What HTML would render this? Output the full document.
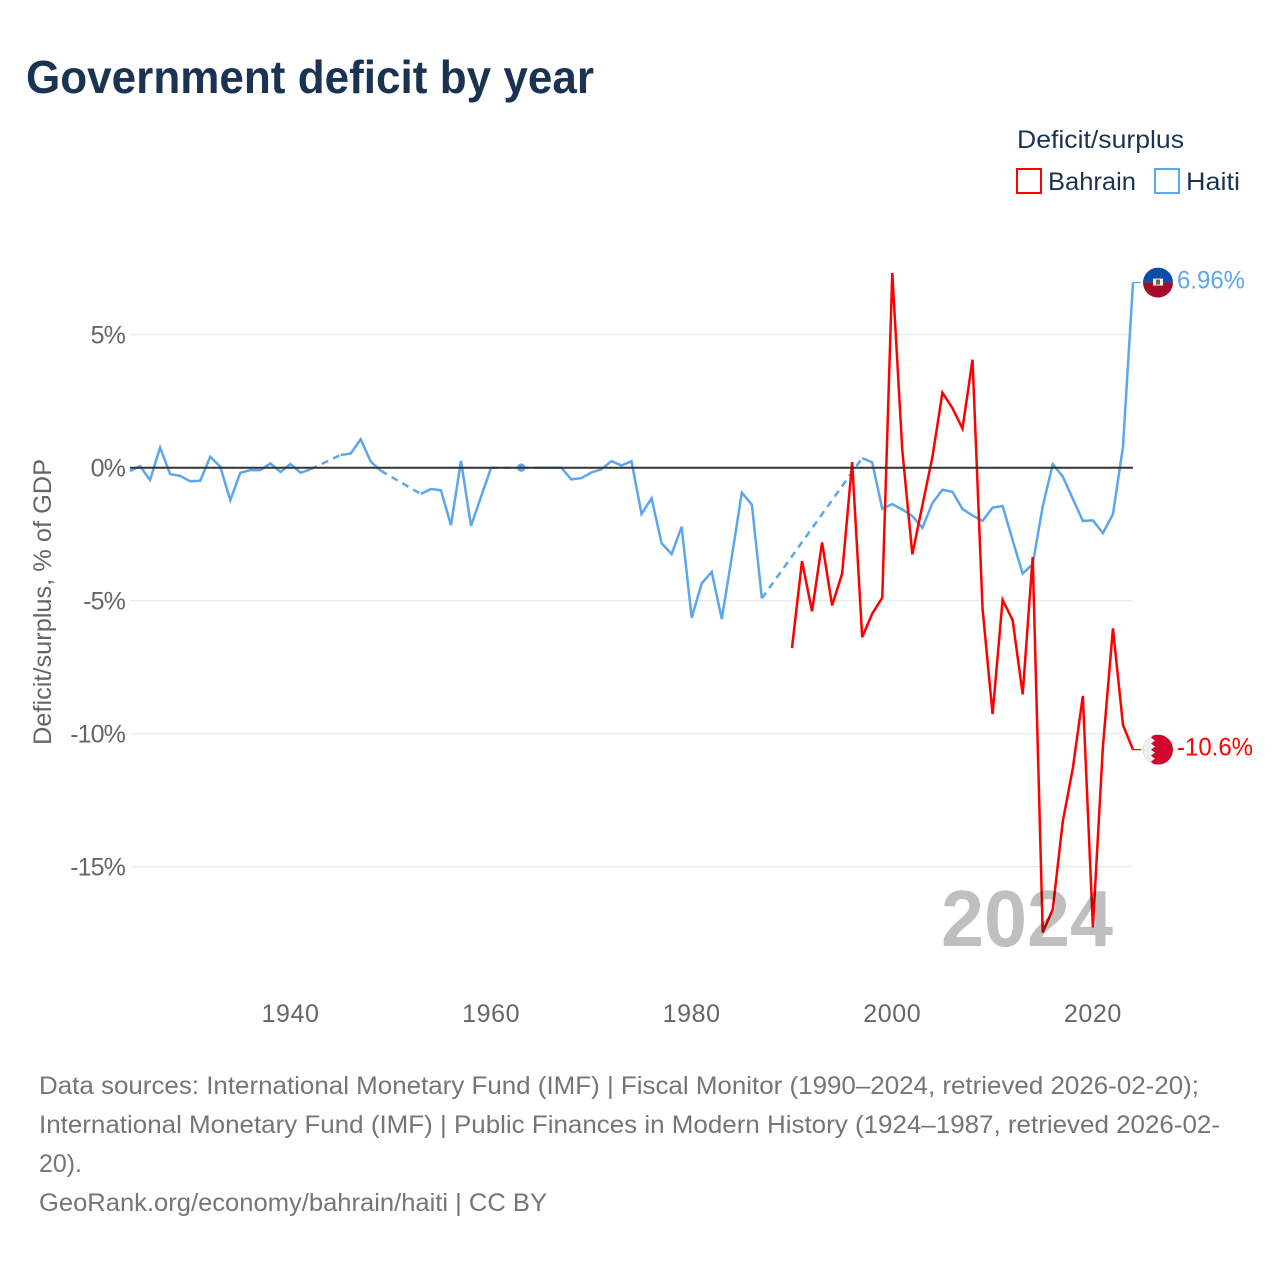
<!DOCTYPE html>
<html lang="en">
<head>
<meta charset="utf-8">
<title>Government deficit by year</title>
<style>
  html, body { margin: 0; padding: 0; background: #fff; }
  svg { display: block; font-family: "Liberation Sans", sans-serif; }
</style>
</head>
<body>
<svg id="chart" xmlns="http://www.w3.org/2000/svg" width="1280" height="1280" viewBox="0 0 1280 1280">
  <defs>
    <clipPath id="flag-clip"><circle cx="0" cy="0" r="15"></circle></clipPath>
  </defs>
  <rect x="0" y="0" width="1280" height="1280" fill="#ffffff"></rect>

  <text x="26" y="93" font-size="46" font-weight="700" fill="#1a3353" textLength="568" lengthAdjust="spacingAndGlyphs">Government deficit by year</text>

  <g>
    <text x="1017" y="148" font-size="25" fill="#1a3353" textLength="167" lengthAdjust="spacingAndGlyphs">Deficit/surplus</text>
    <rect x="1017" y="169" width="24" height="24" fill="#fff" stroke="#ff0000" stroke-width="2"></rect>
    <text x="1048" y="190" font-size="25" fill="#1a3353" textLength="88" lengthAdjust="spacingAndGlyphs">Bahrain</text>
    <rect x="1155" y="169" width="24" height="24" fill="#fff" stroke="#5ca6ee" stroke-width="2"></rect>
    <text x="1186" y="190" font-size="25" fill="#1a3353" textLength="54" lengthAdjust="spacingAndGlyphs">Haiti</text>
  </g>

  <text transform="translate(51,602) rotate(-90)" text-anchor="middle" font-size="25" fill="#666666" textLength="286" lengthAdjust="spacingAndGlyphs">Deficit/surplus, % of GDP</text>

  <g id="y-axis"></g>
  <g id="x-axis"></g>

  <g id="series"></g>
  <g id="zero-layer"></g>

  <text x="941" y="946" font-size="80" font-weight="700" fill="#000000" fill-opacity="0.25" textLength="172" lengthAdjust="spacingAndGlyphs">2024</text>

  <g id="end-labels"></g>

  <g font-size="25" fill="#757575">
    <text x="39" y="1094" textLength="1160" lengthAdjust="spacingAndGlyphs">Data sources: International Monetary Fund (IMF) | Fiscal Monitor (1990–2024, retrieved 2026-02-20);</text>
    <text x="39" y="1133" textLength="1181" lengthAdjust="spacingAndGlyphs">International Monetary Fund (IMF) | Public Finances in Modern History (1924–1987, retrieved 2026-02-</text>
    <text x="39" y="1172" textLength="43" lengthAdjust="spacingAndGlyphs">20).</text>
    <text x="39" y="1211" textLength="508" lengthAdjust="spacingAndGlyphs">GeoRank.org/economy/bahrain/haiti | CC BY</text>
  </g>
</svg>

<script>
const xTickYears = [1940, 1960, 1980, 2000, 2020];
const yTickValues = [5, 0, -5, -10, -15];
const yTickLabels = ['5%', '0%', '-5%', '-10%', '-15%'];

const haitiStartYear = 1924;
const haitiValues = [
  -0.13, 0.06, -0.46, 0.76, -0.24, -0.31, -0.51, -0.49, 0.41, 0.04,
  -1.22, -0.19, -0.09, -0.09, 0.16, -0.16, 0.14, -0.19, -0.06, null,
  null, 0.48, 0.53, 1.07, 0.23, -0.11, null, null, null, -0.99,
  -0.80, -0.85, -2.16, 0.26, -2.19, -1.09, 0, null, null, 0,
  null, 0, 0, 0, -0.44, -0.39, -0.18, -0.06, 0.25, 0.08,
  0.24, -1.74, -1.15, -2.84, -3.25, -2.22, -5.64, -4.35, -3.92, -5.69,
  -3.35, -0.94, -1.39, -4.91, null, null, null, null, null, null,
  null, null, null, 0.36, 0.20, -1.54, -1.37, -1.57, -1.82, -2.26,
  -1.33, -0.83, -0.91, -1.55, -1.80, -2.00, -1.50, -1.44, -2.73, -3.98,
  -3.63, -1.45, 0.13, -0.33, -1.17, -2.00, -1.98, -2.46, -1.75, 0.78,
  6.96
];

const bahrainStartYear = 1990;
const bahrainValues = [
  -6.78, -3.51, -5.40, -2.81, -5.18, -3.98, 0.21, -6.37, -5.49, -4.89,
  7.32, 0.65, -3.26, -1.42, 0.40, 2.82, 2.24, 1.47, 4.06, -5.30,
  -9.26, -4.97, -5.73, -8.52, -3.36, -17.47, -16.60, -13.30, -11.30, -8.58,
  -17.28, -10.49, -6.04, -9.67, -10.60
];

const haitiEndLabel = '6.96%';
const bahrainEndLabel = '-10.6%';

const SVG_NS = 'http://www.w3.org/2000/svg';
const HAITI_COLOR = '#5ca6ee';
const BAHRAIN_COLOR = '#ff0000';
const plotLeft = 130;
const plotRight = 1133;

function xScale(year) { return 130 + (year - 1924) * 10.03; }
function yScale(value) { return 467.7 - value * 26.6; }

function make(tag, attrs, parent) {
  const el = document.createElementNS(SVG_NS, tag);
  for (const k in attrs) el.setAttribute(k, attrs[k]);
  parent.appendChild(el);
  return el;
}

const yAxis = document.getElementById('y-axis');
const xAxis = document.getElementById('x-axis');
const zeroLayer = document.getElementById('zero-layer');
const seriesLayer = document.getElementById('series');
const endLabels = document.getElementById('end-labels');

yTickValues.forEach(function (v, i) {
  const isZero = v === 0;
  const line = make('line', {
    x1: plotLeft, x2: plotRight, y1: yScale(v), y2: yScale(v),
    stroke: isZero ? '#333333' : '#e6e6e6',
    'stroke-width': isZero ? 2 : 1
  }, isZero ? zeroLayer : yAxis);
  
  
  const label = make('text', {
    x: 125, y: yScale(v) + 9, 'text-anchor': 'end',
    'font-size': 25, 'letter-spacing': '-0.9', fill: '#666666'
  }, yAxis);
  
  
  label.textContent = yTickLabels[i];
});

xTickYears.forEach(function (year) {
  const label = make('text', {
    x: xScale(year), y: 1022, 'text-anchor': 'middle',
    'font-size': 25, 'letter-spacing': '0.6', fill: '#666666'
  }, xAxis);
  
  
  label.textContent = String(year);
});

function drawSeries(values, startYear, color, name) {
  const group = make('g', {}, seriesLayer);
  
  
  let run = [];
  let lastPoint = null;

  function flush() {
    if (run.length === 1) {
      const dot = make('circle', { cx: run[0][0], cy: run[0][1], r: 4.2, fill: color }, group);
      
      
    } else if (run.length > 1) {
      const solid = make('polyline', {
        points: run.map(function (p) { return p.join(','); }).join(' '),
        fill: 'none', stroke: color, 'stroke-width': 2.5, 'stroke-linejoin': 'miter'
      }, group);
      
      
    }
    run = [];
  }

  values.forEach(function (v, i) {
    if (v === null) { flush(); return; }
    const pt = [xScale(startYear + i), yScale(v)];
    if (run.length === 0 && lastPoint) {
      const dash = make('line', {
        x1: lastPoint[0], y1: lastPoint[1], x2: pt[0], y2: pt[1],
        stroke: color, 'stroke-width': 2.5, 'stroke-dasharray': '7 5.5'
      }, group);
      
      
    }
    run.push(pt);
    lastPoint = pt;
  });
  flush();
}

drawSeries(haitiValues, haitiStartYear, HAITI_COLOR, 'haiti');
drawSeries(bahrainValues, bahrainStartYear, BAHRAIN_COLOR, 'bahrain');

function drawEnd(values, startYear, color, name, text, textLength, paintFlag) {
  const value = values[values.length - 1];
  const year = startYear + values.length - 1;
  const y = yScale(value);
  const leader = make('line', { x1: xScale(year), x2: 1141, y1: y, y2: y, stroke: color, 'stroke-width': 1.2 }, endLabels);
  
  
  const flag = make('g', { transform: 'translate(1158,' + y + ')', 'clip-path': 'url(#flag-clip)' }, endLabels);
  
  
  paintFlag(flag);
  const label = make('text', {
    x: 1177, y: y + 6, 'font-size': 25, fill: color,
    textLength: textLength, lengthAdjust: 'spacingAndGlyphs'
  }, endLabels);
  
  
  label.textContent = text;
}

drawEnd(haitiValues, haitiStartYear, HAITI_COLOR, 'haiti', haitiEndLabel, 68, function (g) {
  make('rect', { x: -15, y: -15, width: 30, height: 15, fill: '#0a4ea8' }, g);
  make('rect', { x: -15, y: 0, width: 30, height: 15, fill: '#a60a2c' }, g);
  make('rect', { x: -5, y: -4, width: 10, height: 7, fill: '#f2f2f2' }, g);
  make('rect', { x: -2, y: -3, width: 4, height: 5, fill: '#6b6a4a' }, g);
});

drawEnd(bahrainValues, bahrainStartYear, BAHRAIN_COLOR, 'bahrain', bahrainEndLabel, 76, function (g) {
  make('rect', { x: -15, y: -15, width: 30, height: 30, fill: '#d0062e' }, g);
  make('polygon', {
    points: '-15,-15 -4,-15 -7,-12 -3,-9 -7,-6 -3,-3 -7,0 -3,3 -7,6 -3,9 -7,12 -4,15 -15,15',
    fill: '#eeeeee'
  }, g);
});
</script>
</body>
</html>
